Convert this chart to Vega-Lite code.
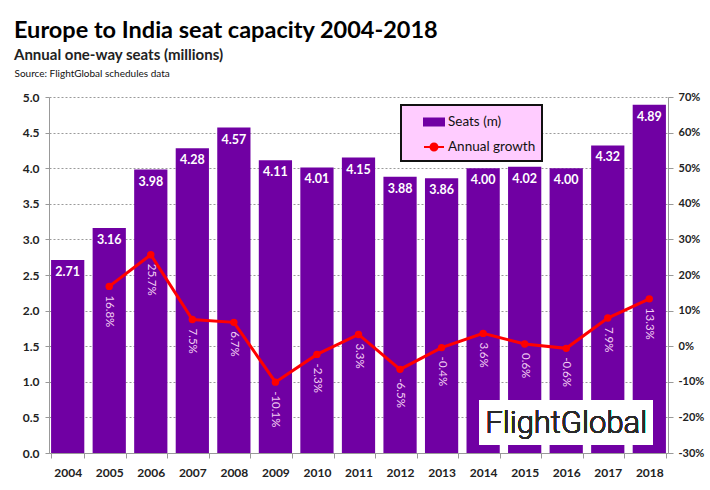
{
  "$schema": "https://vega.github.io/schema/vega-lite/v6.json",
  "width": 619,
  "height": 356,
  "autosize": {"type": "none"},
  "padding": {"left": 49, "top": 97, "right": 42, "bottom": 37},
  "background": "white",
  "config": {
    "font": "Lato",
    "view": {"stroke": null},
    "axis": {"domainColor": "#999999", "tickColor": "#999999", "labelColor": "#222222", "labelFont": "Lato", "labelFontWeight": "bold"}
  },
  "title": {
    "text": "Europe to India seat capacity 2004-2018",
    "subtitle": "Annual one-way seats (millions)",
    "anchor": "start",
    "frame": "group",
    "dx": -35,
    "offset": 5,
    "font": "Lato",
    "fontSize": 23.5,
    "fontWeight": "bold",
    "color": "#000000",
    "subtitleFont": "Lato",
    "subtitleFontSize": 15,
    "subtitleFontWeight": "bold",
    "subtitleColor": "#222222",
    "subtitlePadding": 6
  },
  "data": {
    "values": [
      {"year": "2004", "seats": 2.71, "growth": null},
      {"year": "2005", "seats": 3.16, "growth": 0.168},
      {"year": "2006", "seats": 3.98, "growth": 0.257},
      {"year": "2007", "seats": 4.28, "growth": 0.075},
      {"year": "2008", "seats": 4.57, "growth": 0.067},
      {"year": "2009", "seats": 4.11, "growth": -0.101},
      {"year": "2010", "seats": 4.01, "growth": -0.023},
      {"year": "2011", "seats": 4.15, "growth": 0.033},
      {"year": "2012", "seats": 3.88, "growth": -0.065},
      {"year": "2013", "seats": 3.86, "growth": -0.004},
      {"year": "2014", "seats": 4.00, "growth": 0.036},
      {"year": "2015", "seats": 4.02, "growth": 0.006},
      {"year": "2016", "seats": 4.00, "growth": -0.006},
      {"year": "2017", "seats": 4.32, "growth": 0.079},
      {"year": "2018", "seats": 4.89, "growth": 0.133}
    ]
  },
  "encoding": {
    "x": {
      "field": "year",
      "type": "ordinal",
      "title": null,
      "scale": {"paddingInner": 0.2, "paddingOuter": 0.05},
      "axis": {"labelAngle": 0, "labelFontSize": 12, "labelPadding": 9, "tickBand": "extent", "tickSize": 5, "domainColor": "#999999"}
    }
  },
  "layer": [
    {
      "encoding": {
        "y": {
          "field": "seats",
          "type": "quantitative",
          "scale": {"domain": [0, 5], "nice": false},
          "axis": {
            "orient": "left",
            "values": [0, 0.5, 1, 1.5, 2, 2.5, 3, 3.5, 4, 4.5, 5],
            "format": ".1f",
            "labelFontSize": 12,
            "labelPadding": 6,
            "tickSize": 4,
            "grid": true,
            "gridDash": [2, 2],
            "gridColor": "#9a9a9a",
            "title": "Source: FlightGlobal schedules data",
            "titleAngle": 0,
            "titleAlign": "left",
            "titleBaseline": "alphabetic",
            "titleX": -35,
            "titleY": -21,
            "titleFont": "Lato",
            "titleFontSize": 10,
            "titleFontWeight": "normal",
            "titleColor": "#111111"
          }
        }
      },
      "layer": [
        {
          "mark": {"type": "bar"},
          "encoding": {
            "color": {
              "datum": "Seats (m)",
              "type": "nominal",
              "scale": {"domain": ["Seats (m)", "Annual growth"], "range": ["#7000A3", "#FF0000"]},
              "legend": {
                "title": null,
                "orient": "none",
                "legendX": 352,
                "legendY": 8,
                "fillColor": "#FFCCFF",
                "strokeColor": "#111111",
                "padding": 6,
                "symbolOffset": 16,
                "rowPadding": 6,
                "symbolSize": 400,
                "labelFont": "Lato",
                "labelFontSize": 13.5,
                "labelColor": "#111111",
                "labelOffset": 3,
                "encode": {
                  "legend": {"update": {"strokeWidth": {"value": 2}}},
                  "symbols": {
                    "update": {
                      "shape": {"signal": "datum.value === 'Seats (m)' ? 'M-1,-0.35H1V0.35H-1Z' : 'M-1,0H1M0.35,0A0.35,0.35 0 1 1 -0.35,0A0.35,0.35 0 1 1 0.35,0'"},
                      "fill": {"signal": "datum.value === 'Seats (m)' ? '#7000A3' : '#FF0000'"},
                      "stroke": {"signal": "datum.value === 'Seats (m)' ? 'transparent' : '#FF0000'"},
                      "strokeWidth": {"value": 2},
                      "opacity": {"value": 1},
                      "fillOpacity": {"value": 1}
                    }
                  }
                }
              }
            }
          }
        },
        {
          "mark": {"type": "text", "baseline": "top", "dy": 6, "color": "white", "font": "Lato", "fontSize": 12.5, "fontWeight": "bold"},
          "encoding": {"text": {"field": "seats", "type": "quantitative", "format": ".2f"}}
        },
        {
          "mark": {"type": "point", "shape": "M-1,-0.26H1V0.26H-1Z", "filled": true, "fill": "white", "opacity": 1, "size": 29929},
          "encoding": {"x": {"datum": "2016"}, "y": {"datum": 0.43}}
        },
        {
          "mark": {"type": "text", "text": "FlightGlobal", "font": "Roboto", "fontSize": 31, "fontWeight": 300, "color": "#2a2a2a", "align": "center", "baseline": "middle", "dy": 2},
          "encoding": {"x": {"datum": "2016"}, "y": {"datum": 0.43}}
        }
      ]
    },
    {
      "encoding": {
        "y": {
          "field": "growth",
          "type": "quantitative",
          "scale": {"domain": [-0.3, 0.7], "nice": false, "zero": false},
          "axis": {
            "orient": "right",
            "values": [-0.3, -0.2, -0.1, 0, 0.1, 0.2, 0.3, 0.4, 0.5, 0.6, 0.7],
            "format": ".0%",
            "labelExpr": "replace(datum.label, '\u2212', '-')",
            "labelFontSize": 11,
            "labelPadding": 5,
            "tickSize": 5,
            "grid": false,
            "title": null
          }
        }
      },
      "layer": [
        {
          "mark": {"type": "line", "strokeWidth": 3},
          "encoding": {"color": {"datum": "Annual growth", "type": "nominal"}}
        },
        {
          "mark": {"type": "point", "filled": true, "opacity": 1, "size": 55},
          "encoding": {"color": {"datum": "Annual growth", "type": "nominal"}}
        },
        {
          "mark": {"type": "text", "angle": 90, "align": "left", "baseline": "middle", "dx": 9, "color": "#F2CDF2", "font": "Lato", "fontSize": 11.5, "text": {"expr": "replace(format(datum.growth, '.1%'), '\u2212', '-')"}},
          "encoding": {}
        }
      ]
    }
  ],
  "resolve": {"scale": {"y": "independent"}}
}
